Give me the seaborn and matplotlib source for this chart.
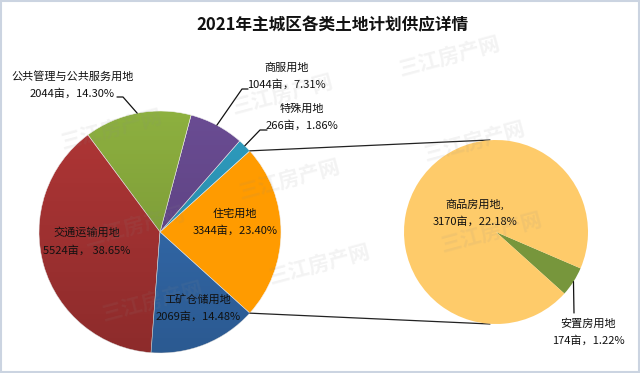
import numpy as np
import matplotlib.pyplot as plt
import matplotlib.patches as mpatches
import seaborn as sns

# 主城区各类用地（亩 / 占比%）
land_types = ["住宅用地", "特殊用地", "商服用地", "公共管理与公共服务用地", "交通运输用地", "工矿仓储用地"]
land_area = [3344, 266, 1044, 2044, 5524, 2069]
land_share = [23.40, 1.86, 7.31, 14.30, 38.65, 14.48]

# 住宅用地细分
housing_types = ["安置房用地", "商品房用地"]
housing_area = [174, 3170]
housing_share = [1.22, 22.18]

title = "2021年主城区各类土地计划供应详情"
watermark = "三江房产网"

main_colors = ["#FF9B00", "#2E9DC0", "#6A4C93", "#8DB03F", "#B03636", "#3670B5"]
sub_colors = ["#77963C", "#FECB6A"]

W, H = 640, 373
main_c, main_r = (160, H - 232), 121
sub_c, sub_r = (496, H - 232), 92

# label block centres (px from top-left) and leader lines (elbow, end)
label_pos = {
    "住宅用地": (235, 222.5),
    "特殊用地": (302, 117),
    "商服用地": (286.5, 76),
    "公共管理与公共服务用地": (72.5, 84.5),
    "交通运输用地": (87, 241.5),
    "工矿仓储用地": (198, 307.5),
    "商品房用地": (475, 212.5),
    "安置房用地": (588.5, 332),
}
leaders = {
    "特殊用地": [(260, 130), (267, 130)],
    "商服用地": [(242, 89), (248, 89)],
    "公共管理与公共服务用地": [(123, 97), (117, 97)],
    "安置房用地": [(574, 313)],
}


def to_ax(p):
    return p[0], H - p[1]


def edge_point(center, r, wedge):
    ang = np.deg2rad((wedge.theta1 + wedge.theta2) / 2)
    return center[0] + r * np.cos(ang), center[1] + r * np.sin(ang)


sns.set_theme(style="white")
plt.rcParams["font.family"] = ["Noto Sans CJK SC", "DejaVu Sans"]

fig = plt.figure(figsize=(6.4, 3.73), dpi=100)
ax = fig.add_axes([0, 0, 1, 1])

start = -land_share[0] / 100 * 360 / 2
main_wedges, _ = ax.pie(land_area, colors=main_colors, center=main_c, radius=main_r,
                        startangle=start, counterclock=True,
                        wedgeprops=dict(edgecolor="#f2f2f2", linewidth=0.4))
sub_wedges, _ = ax.pie(housing_area, colors=sub_colors, center=sub_c, radius=sub_r,
                       startangle=-42, counterclock=True,
                       wedgeprops=dict(edgecolor="none", linewidth=0))
for w in sub_wedges:
    w.set_zorder(3)

# soft vertical shading on the darker slices (the orange one stays flat)
shade = np.zeros((100, 2, 4))
shade[..., 3] = np.linspace(0.0, 0.2, 100)[:, None]
for w in main_wedges[1:]:
    img = ax.imshow(shade, extent=(main_c[0] - main_r, main_c[0] + main_r,
                                   main_c[1] - main_r, main_c[1] + main_r),
                    origin="upper", zorder=1.5, interpolation="bilinear")
    img.set_clip_path(w)

# connector lines between the residential slice and the sub pie
res = main_wedges[0]
for ang, sy in [(res.theta2, sub_c[1] + sub_r), (res.theta1, sub_c[1] - sub_r)]:
    a = np.deg2rad(ang)
    x0, y0 = main_c[0] + main_r * np.cos(a), main_c[1] + main_r * np.sin(a)
    ax.plot([x0, sub_c[0] - 6], [y0, sy], color="#222222", lw=0.9, zorder=2)

# labels
def put_label(name, area, share, wedge, center, r):
    disp = name + "," if name == "商品房用地" else name
    sep = "， " if name == "交通运输用地" else "，"
    x, y = to_ax(label_pos[name])
    ax.text(x, y, f"{disp}\n{area}亩{sep}{share:.2f}%", ha="center", va="center",
            fontsize=8, linespacing=1.75, color="#111111", zorder=5)
    if name in leaders:
        pts = [edge_point(center, r, wedge)] + [to_ax(p) for p in leaders[name]]
        xs, ys = zip(*pts)
        ax.plot(xs, ys, color="#111111", lw=0.9, zorder=4)


for name, area, share, w in zip(land_types, land_area, land_share, main_wedges):
    put_label(name, area, share, w, main_c, main_r)
for name, area, share, w in zip(housing_types, housing_area, housing_share, sub_wedges):
    put_label(name, area, share, w, sub_c, sub_r)

ax.text(332, H - 25, title, ha="center", va="center", fontsize=12,
        fontweight="bold", color="#111111")

# watermark
for p in [(450, 57), (475, 142), (283, 95), (290, 180), (112, 130),
          (135, 227), (153, 302), (320, 265), (492, 233)]:
    x, y = to_ax(p)
    ax.text(x, y, watermark, ha="center", va="center", fontsize=15, rotation=15,
            color="#8a8a8a", alpha=0.10, fontweight="bold", zorder=6)

ax.add_patch(mpatches.Rectangle((0.75, 0.75), W - 1.5, H - 1.5, fill=False,
                                edgecolor="#CBD4E1", lw=1.5, zorder=7))

ax.set_xlim(0, W)
ax.set_ylim(0, H)
ax.set_aspect("equal")
ax.axis("off")

fig.savefig("out.png", dpi=100)
plt.close(fig)
